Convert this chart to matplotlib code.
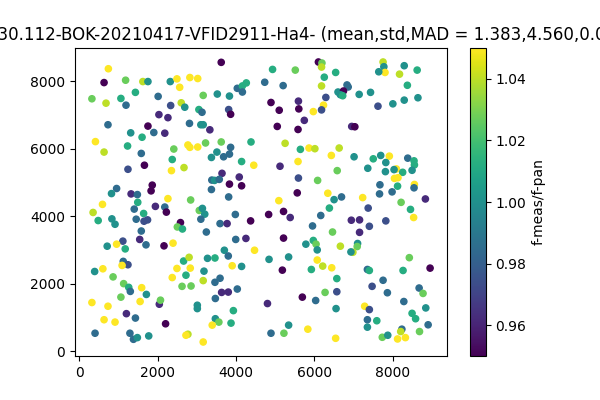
import numpy as np
import matplotlib
matplotlib.use("Agg")
import matplotlib.pyplot as plt

# colour codes
P, I, B, S, T, G1, G, Y1, Y = 0.95, 0.962, 0.974, 0.985, 1.0, 1.012, 1.027, 1.04, 1.05

# (x, y, f-meas/f-pan) per source
sources = [
    # upper left
    (3620, 8560, P), (740, 8370, Y), (630, 7960, P), (1180, 8030, G), (1620, 7990, Y1),
    (1750, 7990, T), (2320, 7990, T), (2490, 8070, Y), (2820, 8110, Y), (3020, 8080, Y),
    (2560, 7820, Y), (4030, 7790, S), (4160, 7860, G1), (4260, 7950, G1), (4160, 7680, S),
    (320, 7480, G), (680, 7350, Y1), (1060, 7490, G1), (1430, 7670, G1), (1190, 7290, S),
    (2010, 7550, S), (3160, 7580, G), (3520, 7620, T), (3830, 7560, T), (2600, 7360, Y1),
    (2330, 7280, B), (2690, 7230, T), (3050, 7160, G1), (3130, 7080, S), (3810, 7160, B),
    (3860, 7020, P), (2030, 7010, I), (2260, 6920, I), (1750, 6670, P), (730, 6710, S),
    (2810, 6750, S), (3100, 6710, T), (3160, 6710, T), (3330, 6560, I), (1310, 6470, T),
    (1900, 6480, S), (2180, 6460, I), (1600, 6340, G1), (410, 6210, Y), (1230, 6080, G1),
    (2410, 5990, G), (2770, 6110, Y), (2820, 6040, Y), (3020, 6050, Y), (3220, 6170, G),
    (3620, 6200, G), (3860, 6040, S), (4380, 6200, G1),
    # upper right
    (6100, 8570, P), (6190, 8540, G), (6180, 8420, Y1), (4930, 8350, G1), (5510, 8330, G),
    (6540, 8260, G1), (6250, 8120, G1), (7750, 8570, Y1), (7770, 8430, T), (7800, 8260, Y),
    (7640, 8280, T), (8290, 8460, T), (8620, 8330, G1), (8170, 8210, Y1), (4730, 7970, S),
    (5200, 7870, S), (6180, 7860, Y1), (6830, 7890, S), (6860, 7830, S), (6600, 7680, T),
    (6740, 7710, P), (6660, 7600, T), (6720, 7570, G1), (7140, 7610, T), (7430, 7670, T),
    (8370, 7880, G1), (6290, 7520, B), (4890, 7370, P), (5590, 7410, I), (5100, 7140, P),
    (5600, 7180, P), (6230, 7290, Y), (6180, 7150, B), (5970, 7100, Y), (7620, 7260, B),
    (8000, 7330, T), (8290, 7440, T), (8640, 7510, T), (5740, 6840, I), (5050, 6660, P),
    (5580, 6570, P), (6950, 6660, I), (7030, 6650, P), (5250, 6160, Y1), (5640, 5980, G1),
    (5860, 6020, Y), (6010, 6000, Y1), (6630, 6020, Y1),
    # middle left
    (630, 5900, Y1), (1580, 5860, S), (3510, 5900, T), (3680, 5760, S), (3830, 5840, S),
    (2370, 5680, G1), (3370, 5740, T), (4140, 5620, G1), (4450, 5510, Y), (1240, 5390, B),
    (1660, 5510, P), (2350, 5350, Y), (2670, 5440, Y1), (3640, 5270, I), (4080, 5160, I),
    (3380, 5070, S), (3450, 5060, T), (3570, 5090, S), (3830, 4950, P), (4140, 4900, P),
    (1860, 4920, P), (1830, 4750, P), (950, 4820, S), (820, 4670, T), (1320, 4660, I),
    (1480, 4640, S), (3370, 4790, S), (3810, 4570, S), (1490, 4410, G1), (2260, 4520, Y),
    (2840, 4480, G), (590, 4350, Y), (1940, 4290, I), (2180, 4270, S), (2220, 4120, P),
    (1400, 4210, S), (350, 4110, Y1), (3060, 4170, G), (3140, 4230, T), (3200, 4060, T),
    (1640, 4080, G1), (3100, 3910, S), (3980, 4050, S), (4370, 3860, P), (480, 3870, G1),
    (830, 3920, T), (910, 3760, T), (1450, 3910, S), (1650, 3850, B), (1740, 3890, B),
    (2580, 3810, P), (2500, 3680, G), (2630, 3620, G1), (3590, 3780, S), (3770, 3780, I),
    (1580, 3560, S), (3240, 3530, S), (1110, 3260, B), (1540, 3310, I), (710, 3110, T),
    (950, 3170, Y), (1170, 3030, G1), (1700, 3150, S), (2160, 3120, P), (2390, 3200, Y),
    (3990, 3310, S), (4250, 3340, I), (3700, 2990, T), (4470, 2990, Y),
    # middle right
    (6430, 5800, Y), (7010, 5760, T), (7500, 5700, G1), (7690, 5800, T), (7910, 5780, Y),
    (7820, 5590, T), (8380, 5720, S), (8540, 5640, G1), (8550, 5520, G1), (5120, 5480, I),
    (5580, 5620, Y), (7360, 5420, T), (7810, 5320, T), (8090, 5400, Y), (8030, 5380, T),
    (8250, 5300, G1), (8490, 5360, T), (6580, 5350, G), (5590, 5130, B), (6080, 5060, G),
    (8040, 5120, Y), (8130, 5140, Y), (7670, 4930, S), (8120, 4890, G1), (8550, 4940, Y),
    (8540, 4840, S), (5560, 4690, P), (6340, 4680, Y), (7660, 4660, S), (7980, 4720, S),
    (7230, 4550, Y), (6690, 4570, S), (6500, 4490, T), (8210, 4410, G), (8830, 4510, I),
    (5090, 4460, Y), (4830, 4050, P), (5210, 4140, P), (5380, 3960, I), (6380, 4240, G1),
    (7370, 4240, B), (8450, 4200, G1), (8530, 3960, Y), (6160, 4020, S), (6940, 3880, I),
    (7150, 3890, I), (7820, 3860, B), (5950, 3710, S), (7400, 3700, B), (6460, 3530, G),
    (7150, 3520, I), (5210, 3350, P), (5970, 3280, G1), (6040, 3170, G), (5780, 3170, T),
    (6070, 3000, T), (6660, 3110, Y1), (7100, 3190, T), (7090, 3100, G), (6980, 2930, Y1),
    (6930, 2940, T),
    # lower left
    (1120, 2660, S), (1240, 2560, B), (1090, 2540, Y), (390, 2360, T), (600, 2440, Y),
    (860, 2200, G), (2660, 2670, G1), (2800, 2780, Y1), (3270, 2750, T), (3460, 2760, G1),
    (3800, 2820, S), (2490, 2450, Y), (2830, 2460, Y), (2720, 2250, G1), (3180, 2370, T),
    (3900, 2530, Y), (4140, 2510, T), (2370, 2180, Y), (2620, 1920, G), (2850, 1930, G),
    (3160, 2090, Y1), (3460, 2040, S), (3590, 2160, S), (1130, 2000, G), (1260, 1890, G1),
    (1300, 1770, S), (1590, 1880, Y), (1710, 1680, T), (1060, 1600, G), (1550, 1470, Y),
    (320, 1440, Y), (730, 1330, Y), (2040, 1390, I), (2070, 1510, G), (3630, 1740, I),
    (3800, 1750, I), (4030, 1840, S), (3470, 1560, S), (3010, 1360, T), (3010, 1260, T),
    (3930, 1200, G1), (1200, 1110, I), (1430, 980, S), (630, 930, Y), (910, 860, Y),
    (2200, 810, P), (3470, 960, T), (3560, 860, G), (3390, 770, Y), (3870, 830, G1),
    (400, 530, S), (1290, 530, S), (1380, 350, S), (1480, 400, T), (1770, 450, T),
    (2770, 500, Y1), (2720, 470, Y), (3160, 270, Y),
    # lower right
    (4840, 2720, T), (5340, 2790, T), (6070, 2700, Y), (8420, 2770, G), (5180, 2400, P),
    (5920, 2420, G1), (6210, 2520, Y1), (6440, 2470, Y), (6570, 2150, G1), (7350, 2420, S),
    (7400, 2390, G1), (8260, 2390, G1), (8950, 2460, P), (7750, 2100, S), (7470, 1920, B),
    (7860, 1730, S), (8670, 1870, S), (8770, 1710, G), (6270, 1740, G), (6570, 1760, B),
    (5690, 1600, P), (6030, 1500, S), (4800, 1410, I), (6550, 1260, T), (7280, 1330, Y),
    (7400, 1230, B), (8280, 1470, S), (8840, 1280, T), (8490, 1120, G1), (8580, 960, G1),
    (7350, 930, S), (7590, 900, G1), (7350, 710, T), (8900, 780, S), (5340, 770, T),
    (4890, 530, S), (5220, 530, G), (5830, 650, Y), (6540, 380, Y), (7730, 410, G),
    (7870, 470, T), (8230, 650, S), (8200, 580, Y1), (8120, 360, Y), (8320, 400, Y),
    (8680, 580, G),
]

x = [s[0] for s in sources]
y = [s[1] for s in sources]
ratio = [s[2] for s in sources]

title = "VF-218.123+30.112-BOK-20210417-VFID2911-Ha4- (mean,std,MAD = 1.383,4.560,0.012)"

fig = plt.figure(figsize=(6, 4), dpi=100)
plt.scatter(x, y, c=ratio, s=20, vmin=0.95, vmax=1.05, cmap="viridis")
cb = plt.colorbar()
cb.set_label("f-meas/f-pan")
plt.title(title)
plt.savefig("out.png")
